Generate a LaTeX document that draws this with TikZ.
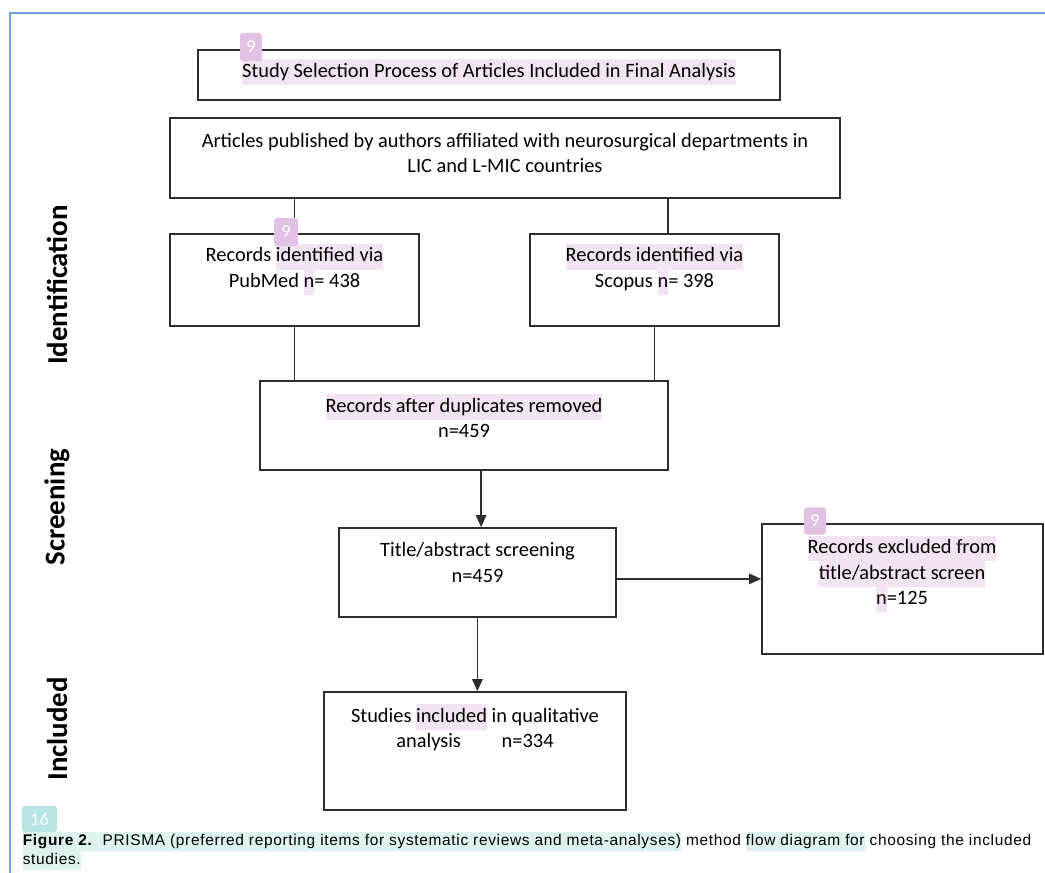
\documentclass[tikz,border=0pt]{standalone}
\usepackage{fontspec}
\setmainfont{Carlito}
\newfontfamily\capfont[LetterSpace=4.3]{Liberation Sans}
\usetikzlibrary{arrows.meta}
\definecolor{hlpink}{RGB}{243,228,243}
\definecolor{badgepink}{RGB}{226,194,228}
\definecolor{hlteal}{RGB}{222,242,242}
\definecolor{badgeteal}{RGB}{184,228,228}
\definecolor{frameblue}{RGB}{112,160,224}
\definecolor{boxline}{RGB}{45,45,45}
\newcommand{\hlp}[1]{{\setlength{\fboxsep}{0pt}\colorbox{hlpink}{\strut #1}}}
\newcommand{\hlt}[1]{{\setlength{\fboxsep}{0pt}\colorbox{hlteal}{\strut #1}}}
\tikzset{every picture/.style={line width=1.2pt}}
\tikzset{
  box/.style={draw=boxline, rectangle, inner sep=0pt},
  txt/.style={align=center, inner sep=0pt, font=\fontsize{14.5}{18}\selectfont},
  side/.style={rotate=90, inner sep=0pt, font=\fontsize{20.5}{22}\selectfont\bfseries},
  badge/.style={rounded corners=2pt, inner sep=0pt, text=white, font=\fontsize{13}{13}\selectfont},
  arr/.style={draw=boxline, -{Triangle[length=0.3cm,width=0.26cm]}}
}

\begin{document}
\begin{tikzpicture}[x=0.025cm,y=-0.025cm]
\useasboundingbox (0,0) rectangle (1045,873);
\draw[frameblue, line width=1.5pt] (10,873) -- (10,13) -- (1045,13);
%
\node[box, minimum width=14.55cm, minimum height=1.25cm] (title) at (489,75) {};
\node[box, minimum width=16.75cm, minimum height=2cm] (art) at (505,158) {};
\node[box, minimum width=6.225cm, minimum height=2.3cm] (pub) at (294.5,280) {};
\node[box, minimum width=6.225cm, minimum height=2.3cm] (sco) at (654.5,280) {};
\node[box, minimum width=10.2cm, minimum height=2.225cm] (dup) at (464,425.5) {};
\node[box, minimum width=6.925cm, minimum height=2.225cm] (scr) at (477.5,572.5) {};
\node[box, minimum width=7.025cm, minimum height=3.25cm] (exc) at (902.5,589) {};
\node[box, minimum width=7.55cm, minimum height=2.95cm] (inc) at (475,751) {};
%
\node[txt] (titlet) at (489,72) {\hlp{Study Selection Process of Articles Included in Final Analysis}};
\node[txt] (artt) at (505,153) {Articles published by authors affiliated with neurosurgical departments in\\LIC and L-MIC countries};
\node[txt] (pubt) at (294.5,269.5) {Records \hlp{identified via}\\PubMed \hlp{n}= 438};
\node[txt] (scot) at (654.5,269.5) {\hlp{Records identified via}\\Scopus \hlp{n}= 398};
\node[txt] (dupt) at (464,416) {\hlp{Records after duplicates removed}\\n=459};
\node[txt] (scrt) at (477.5,562.5) {Title/abstract screening\\n=459};
\node[txt] (exct) at (902,574) {\hlp{Records excluded from}\\\hlp{title/abstract screen}\\\hlp{n}=125};
\node[txt] (inct) at (475,727.5) {Studies \hlp{included} in qualitative\\analysis\hspace{2em}n=334};
%
\node[side] (ident) at (57,285) {Identification};
\node[side] (screen) at (57,507) {Screening};
\node[side] (incl) at (57,729) {Included};
%
\coordinate (scotop) at ([xshift=0.34cm]sco.north);
\coordinate (scrtop) at ([xshift=0.09cm]scr.north);
\coordinate (inctop) at ([xshift=0.06cm]inc.north);
\coordinate (scrright) at ([yshift=-0.16cm]scr.east);
%
\foreach \Source/\Target in {%
	pub.north/art.south,
	scotop/art.south,
	pub.south/dup.north,
	sco.south/dup.north%
    }
\draw[boxline] (\Source) -- (\Source |- \Target);
%
\foreach \Source/\Target in {%
	dup.south/scrtop,
	scr.south/inctop%
    }
\draw[arr] (\Target |- \Source) -- (\Target);
\draw[arr] (scrright) -- (scrright -| exc.west);
%
\node[badge, fill=badgepink, minimum width=0.55cm, minimum height=0.7cm] (b1) at (251,47) {9};
\node[badge, fill=badgepink, minimum width=0.6cm, minimum height=0.7cm] (b2) at (286,232) {9};
\node[badge, fill=badgepink, minimum width=0.55cm, minimum height=0.68cm] (b3) at (815,521) {9};
\node[badge, fill=badgeteal, minimum width=0.875cm, minimum height=0.65cm] (b4) at (39.5,819) {16};
%
\node[anchor=north west, align=left, inner sep=0pt, font=\capfont\fontsize{11}{13.5}\selectfont] (cap) at (22,831) {\hlt{\textbf{Figure 2.}\ \ PRISMA (preferred reporting items for systematic reviews and meta-analyses)} method \hlt{flow diagram for} choosing the included\\\hlt{studies.}};
\end{tikzpicture}
\end{document}
